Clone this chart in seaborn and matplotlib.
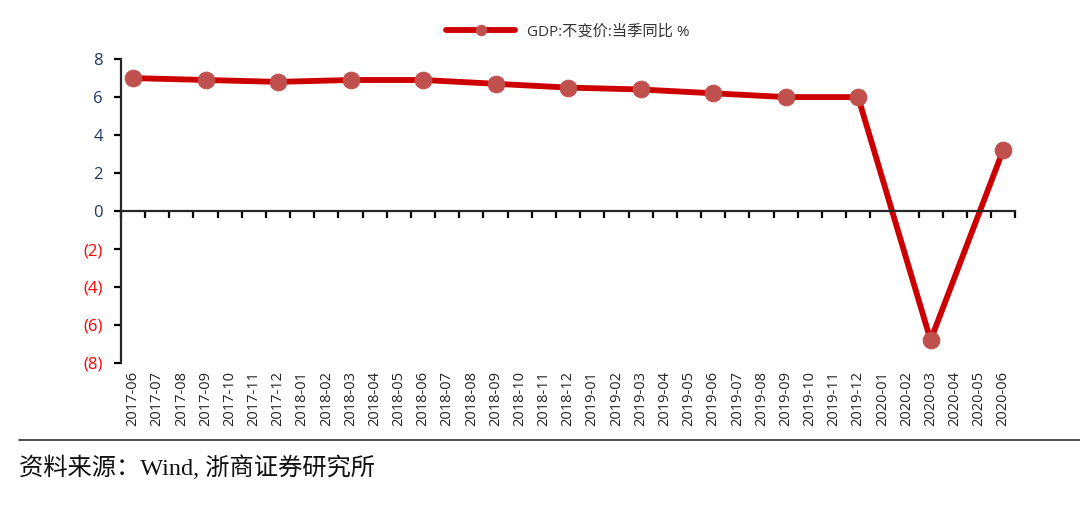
import numpy as np
import pandas as pd
import matplotlib
matplotlib.use('Agg')
import matplotlib.pyplot as plt
import seaborn as sns

sns.set_style('white')
plt.rcParams['font.family'] = ['Open Sans', 'Noto Sans CJK SC', 'DejaVu Sans']

# Data
months = pd.date_range('2017-06', '2020-06', freq='MS').strftime('%Y-%m').tolist()
quarters = ['2017-06', '2017-09', '2017-12', '2018-03', '2018-06', '2018-09', '2018-12',
            '2019-03', '2019-06', '2019-09', '2019-12', '2020-03', '2020-06']
gdp_yoy = [7.0, 6.9, 6.8, 6.9, 6.9, 6.7, 6.5, 6.4, 6.2, 6.0, 6.0, -6.8, 3.2]
series_name = 'GDP:不变价:当季同比 %'

df = pd.DataFrame({'month': quarters, 'value': gdp_yoy})
df['pos'] = df['month'].map({m: i for i, m in enumerate(months)})

fig = plt.figure(figsize=(10.8, 5.23), dpi=100)
ax = fig.add_axes([0.112, 0.306, 0.828, 0.581])

sns.lineplot(data=df, x='pos', y='value', ax=ax, color='#CC0000', linewidth=4.2,
             marker='o', markersize=12, markerfacecolor='#C0504D',
             markeredgecolor='#C0504D', label=series_name)

ax.set_xlim(-0.5, len(months) - 0.5)
ax.set_ylim(-8, 8)
ax.set_xlabel('')
ax.set_ylabel('')

# y axis
yt = np.arange(-8, 9, 2)
ax.set_yticks(yt)
ax.set_yticklabels([f'({abs(v)})' if v < 0 else f'{v}' for v in yt], fontsize=12)
for lab, v in zip(ax.get_yticklabels(), yt):
    lab.set_color('#FF0000' if v < 0 else '#1F3864')
ax.tick_params(axis='y', direction='out', length=5, width=1.6, color='black', left=True, pad=8)

# x axis line at zero with ticks at category boundaries
for s in ['top', 'right']:
    ax.spines[s].set_visible(False)
ax.spines['left'].set_linewidth(1.6)
ax.spines['bottom'].set_position(('data', 0))
ax.spines['bottom'].set_linewidth(1.6)
ax.set_xticks(np.arange(len(months) + 1) - 0.5)
ax.set_xticklabels([])
ax.tick_params(axis='x', direction='out', length=5, width=1.6, color='black', bottom=True)

sec = ax.secondary_xaxis('bottom')
sec.spines['bottom'].set_visible(False)
sec.set_xticks(range(len(months)))
sec.set_xticklabels(months, rotation=90, fontsize=10.5, color='#222222')
sec.tick_params(axis='x', length=0, pad=6)

leg = ax.legend(loc='lower center', bbox_to_anchor=(0.5, 1.045), frameon=False,
                fontsize=11, handlelength=4.5, borderaxespad=0)
for t in leg.get_texts():
    t.set_color('#333333')
for h in leg.legend_handles:
    h.set_markersize(7.5)

# footer
fig.add_artist(plt.Line2D([0.018, 1.0], [0.158, 0.158], color='#333333', linewidth=1.2))
fig.text(0.018, 0.105, '资料来源：Wind, 浙商证券研究所', fontsize=17.5,
         family=['Liberation Serif', 'Noto Sans CJK SC'], color='#111111', va='center')

fig.savefig('out.png', dpi=100)
